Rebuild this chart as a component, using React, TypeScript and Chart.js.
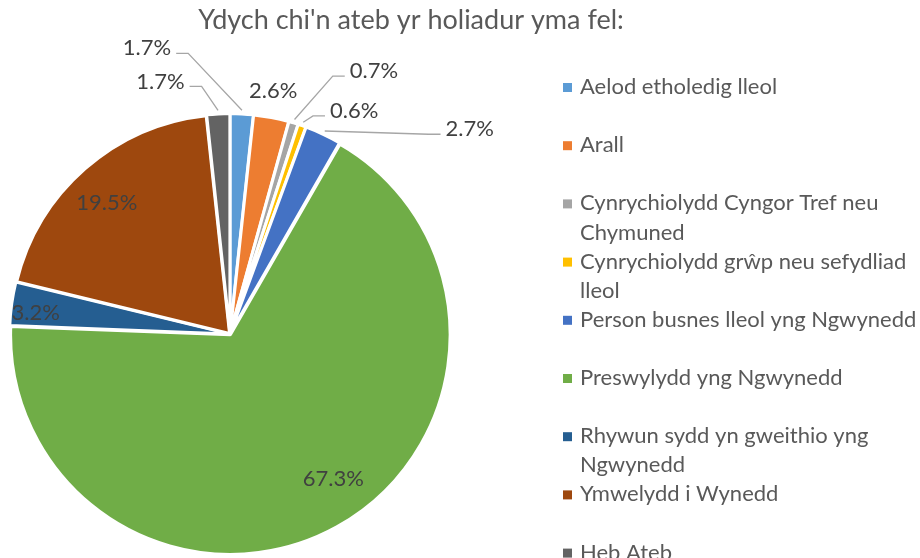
import React, { useEffect, useRef } from "react";
import { Chart, registerables } from "chart.js";

Chart.register(...registerables);

const titleText = "Ydych chi'n ateb yr holiadur yma fel:";
const categories = [
  "Aelod etholedig lleol",
  "Arall",
  "Cynrychiolydd Cyngor Tref neu Chymuned",
  "Cynrychiolydd grŵp neu sefydliad lleol",
  "Person busnes lleol yng Ngwynedd",
  "Preswylydd yng Ngwynedd",
  "Rhywun sydd yn gweithio yng Ngwynedd",
  "Ymwelydd i Wynedd",
  "Heb Ateb",
];
const values = [1.7, 2.6, 0.7, 0.6, 2.7, 67.3, 3.2, 19.5, 1.7];
const colors = [
  "#5B9BD5",
  "#ED7D31",
  "#A5A5A5",
  "#FFC000",
  "#4472C4",
  "#70AD47",
  "#255E91",
  "#9E480E",
  "#636363",
];

// label placement (polar, relative to pie centre): angle in degrees clockwise from top, radius factor
const labelAngles = [-16.2, 10.1, 28.7, 29.1, 49.5, 144.4, 276.2, 316.8, -15.4];
const labelRadii = [1.34, 1.11, 1.35, 1.15, 1.42, 0.8, 0.88, 0.81, 1.18];
const labelLeaders = [true, false, true, true, true, false, false, false, true];

const FONT = "Lato, 'Noto Sans', sans-serif";

const wrapText = (ctx: CanvasRenderingContext2D, text: string, maxW: number) => {
  const words = text.split(" ");
  const lines: string[] = [];
  let cur = "";
  for (const w of words) {
    const t = cur ? cur + " " + w : w;
    if (ctx.measureText(t).width > maxW && cur) {
      lines.push(cur);
      cur = w;
    } else cur = t;
  }
  if (cur) lines.push(cur);
  return lines;
};

const decorPlugin = {
  id: "decor",
  afterDatasetsDraw(chart: any) {
    const ctx: CanvasRenderingContext2D = chart.ctx;
    const meta = chart.getDatasetMeta(0);
    ctx.save();
    // data labels
    ctx.font = `22px ${FONT}`;
    ctx.textAlign = "center";
    ctx.textBaseline = "middle";
    meta.data.forEach((arc: any, i: number) => {
      const p = arc.getProps(["x", "y", "startAngle", "endAngle", "outerRadius", "options"], true);
      const off = (p.options && p.options.offset) || 0;
      const R = p.outerRadius + off;
      const a = (labelAngles[i] * Math.PI) / 180;
      const px = p.x + Math.sin(a) * R * labelRadii[i];
      const py = p.y - Math.cos(a) * R * labelRadii[i];
      const txt = values[i].toFixed(1) + "%";
      const w = ctx.measureText(txt).width;
      if (labelLeaders[i]) {
        const mid = (p.startAngle + p.endAngle) / 2;
        const ax = p.x + Math.cos(mid) * (R + 2);
        const ay = p.y + Math.sin(mid) * (R + 2);
        const gap = 5;
        const seg = 12;
        let endX: number, elbowX: number;
        if (px < ax) {
          endX = px + w / 2 + gap;
          elbowX = endX + seg;
        } else {
          endX = px - w / 2 - gap;
          elbowX = endX - seg;
        }
        const ly = py + 5;
        ctx.strokeStyle = "#A6A6A6";
        ctx.lineWidth = 1.3;
        ctx.beginPath();
        ctx.moveTo(ax, ay);
        ctx.lineTo(elbowX, ly);
        ctx.lineTo(endX, ly);
        ctx.stroke();
      }
      ctx.fillStyle = "#404040";
      ctx.fillText(txt, px, py);
    });

    // title
    ctx.font = `27px ${FONT}`;
    ctx.fillStyle = "#595959";
    ctx.textAlign = "center";
    ctx.textBaseline = "alphabetic";
    ctx.fillText(titleText, 411, 29);

    // legend
    ctx.font = `22px ${FONT}`;
    ctx.textAlign = "left";
    const lineH = 29.1;
    let slot = 0;
    categories.forEach((c, i) => {
      const lines = wrapText(ctx, c, 339);
      const base = 94 + slot * lineH;
      ctx.fillStyle = colors[i];
      ctx.fillRect(563, base - 11, 9, 9);
      ctx.fillStyle = "#595959";
      lines.forEach((ln, j) => ctx.fillText(ln, 580, base + j * lineH));
      slot += Math.max(2, lines.length);
    });
    ctx.restore();
  },
};

export default function App() {
  const ref = useRef<HTMLCanvasElement>(null);
  useEffect(() => {
    if (!ref.current) return;
    const chart = new Chart(ref.current, {
      type: "pie",
      data: {
        labels: categories,
        datasets: [
          {
            data: values,
            backgroundColor: colors,
            borderColor: "#FFFFFF",
            borderWidth: 3,
            offset: 3,
          },
        ],
      },
      options: {
        responsive: false,
        animation: false,
        devicePixelRatio: 1,
        layout: { padding: { left: 7, top: 112, right: 467, bottom: 2 } },
        plugins: {
          legend: { display: false },
          title: { display: false },
          tooltip: { enabled: false },
        },
      },
      plugins: [decorPlugin],
    });
    return () => chart.destroy();
  }, []);
  return (
    <div style={{ position: "fixed", left: 0, top: 0, width: 920, height: 558, background: "#fff" }}>
      <canvas ref={ref} width={920} height={558} />
    </div>
  );
}
